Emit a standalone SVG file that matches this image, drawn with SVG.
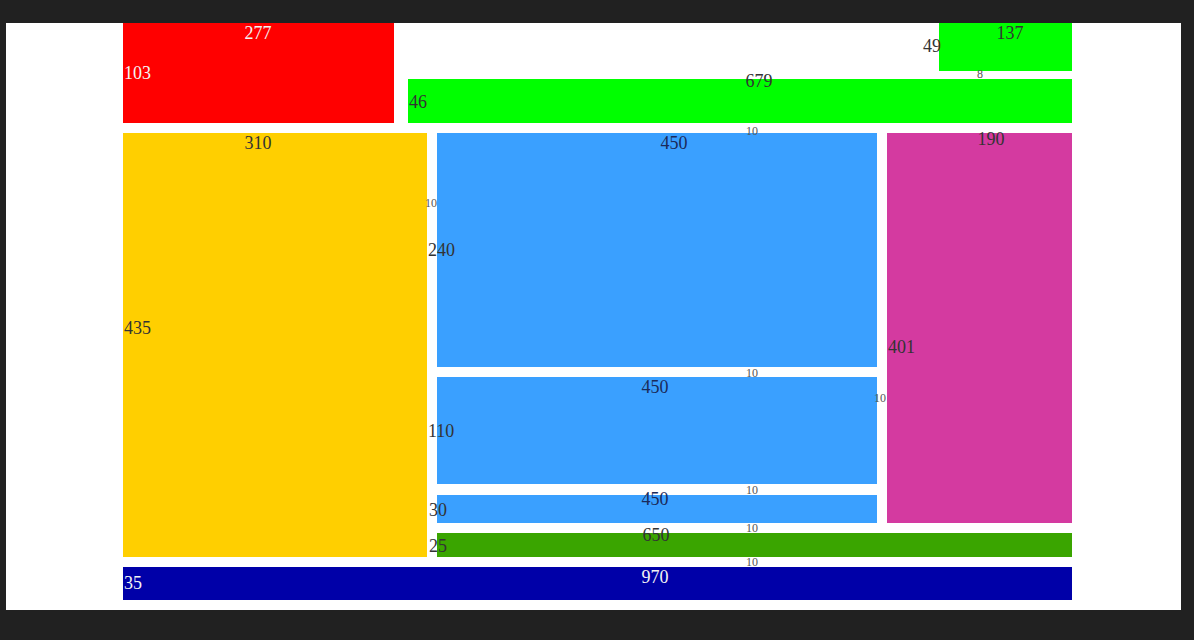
<svg xmlns="http://www.w3.org/2000/svg" width="1194" height="640" viewBox="0 0 1194 640">
<style>
text{font-family:"Liberation Serif","DejaVu Serif",serif;font-size:18px;fill:#333}
.c{text-anchor:middle}
.w{fill:#f4f4f4}
.s{font-size:12px;fill:#555}
.b{fill:#1a2a5a}
</style>
<rect x="0" y="0" width="1194" height="640" fill="#212121"/>
<rect x="6" y="23" width="1175" height="587" fill="#ffffff"/>
<g id="red"><rect x="123" y="23" width="271" height="100" fill="#ff0000"/><text class="c w" x="258" y="39">277</text><text class="w" x="124" y="79">103</text></g>
<g id="greenSmall"><rect x="939" y="23" width="133" height="48" fill="#00ff00"/><text class="c" x="1010" y="39">137</text><text class="c" x="932" y="52">49</text><text class="c s" x="980" y="78">8</text></g>
<g id="greenBar"><rect x="408" y="79" width="664" height="44" fill="#00ff00"/><text class="c" x="759" y="87">679</text><text x="409" y="108">46</text></g>
<g id="yellow"><rect x="123" y="133" width="304" height="424" fill="#ffcf00"/><text class="c" x="258" y="149">310</text><text x="124" y="334">435</text></g>
<g id="blue1"><rect x="437" y="133" width="440" height="234" fill="#3aa0ff"/><text class="c b" x="674" y="149">450</text><text x="428" y="256">240</text></g>
<g id="magenta"><rect x="887" y="133" width="185" height="390" fill="#d43aa0"/><text class="c" x="991" y="145">190</text><text x="888" y="353">401</text></g>
<g id="blue2"><rect x="437" y="377" width="440" height="107" fill="#3aa0ff"/><text class="c b" x="655" y="393">450</text><text x="428" y="437">110</text></g>
<g id="blue3"><rect x="437" y="495" width="440" height="28" fill="#3aa0ff"/><text class="c b" x="655" y="505">450</text><text x="429" y="516">30</text></g>
<g id="greenDark"><rect x="437" y="533" width="635" height="24" fill="#3aa500"/><text class="c" x="656" y="541">650</text><text x="429" y="552">25</text></g>
<g id="navy"><rect x="123" y="567" width="949" height="33" fill="#0000a8"/><text class="c w" x="655" y="583">970</text><text class="w" x="124" y="589">35</text></g>
<g id="gaps">
<text class="c s" x="752" y="135">10</text>
<text class="c s" x="431" y="207">10</text>
<text class="c s" x="880" y="402">10</text>
<text class="c s" x="752" y="377">10</text>
<text class="c s" x="752" y="494">10</text>
<text class="c s" x="752" y="532">10</text>
<text class="c s" x="752" y="566">10</text>
</g>
</svg>
